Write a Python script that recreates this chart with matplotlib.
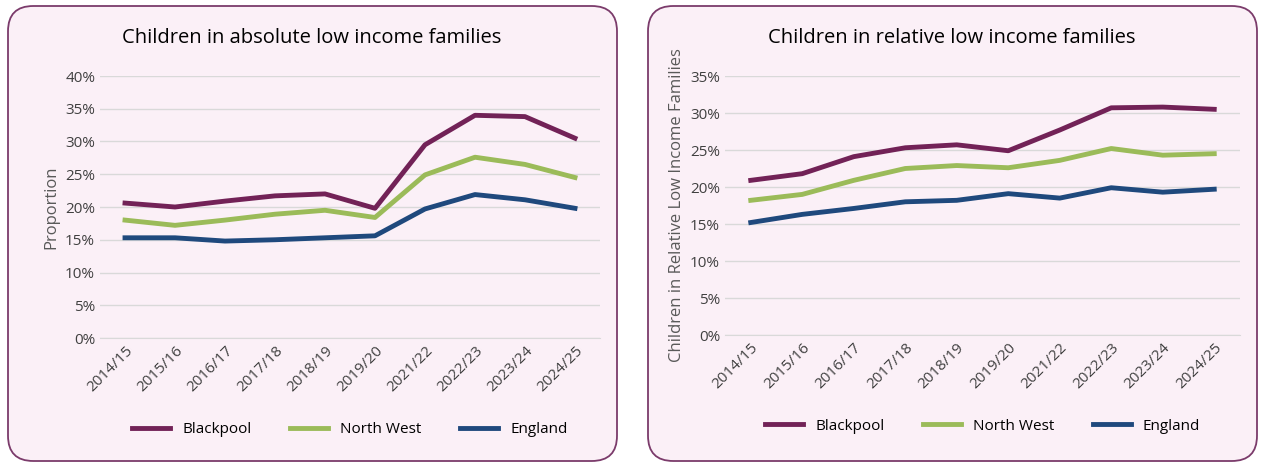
import matplotlib
matplotlib.use("Agg")
import matplotlib.pyplot as plt
from matplotlib.patches import FancyBboxPatch
from matplotlib.ticker import PercentFormatter

plt.rcParams['font.family'] = ['Open Sans', 'DejaVu Sans']

years = ["2014/15", "2015/16", "2016/17", "2017/18", "2018/19", "2019/20",
         "2021/22", "2022/23", "2023/24", "2024/25"]

abs_blackpool = [20.6, 20.0, 20.9, 21.7, 22.0, 19.8, 29.5, 34.0, 33.8, 30.5]
abs_northwest = [18.0, 17.2, 18.0, 18.9, 19.5, 18.4, 24.9, 27.6, 26.5, 24.5]
abs_england = [15.3, 15.3, 14.8, 15.0, 15.3, 15.6, 19.7, 21.9, 21.1, 19.8]

rel_blackpool = [20.9, 21.8, 24.1, 25.3, 25.7, 24.9, 27.7, 30.7, 30.8, 30.5]
rel_northwest = [18.2, 19.0, 20.9, 22.5, 22.9, 22.6, 23.6, 25.2, 24.3, 24.5]
rel_england = [15.2, 16.3, 17.1, 18.0, 18.2, 19.1, 18.5, 19.9, 19.3, 19.7]

colors = {"Blackpool": "#722257", "North West": "#9BBB59", "England": "#1F497D"}
W, H = 1263, 469

fig = plt.figure(figsize=(W / 100, H / 100), dpi=100)

# panel backgrounds (behind the axes)
for x0 in (8, 648):
    fig.patches.append(FancyBboxPatch((x0 / W, 8 / H), 609 / W, 455 / H,
                                      boxstyle="round,pad=0,rounding_size=0.02",
                                      transform=fig.transFigure, facecolor="#FBF0F7",
                                      edgecolor="#7B3B6B", linewidth=1.3,
                                      mutation_aspect=W / H, zorder=-10))


def draw(rect, series, ymax, title, ylabel, title_x):
    ax = fig.add_axes(rect)
    ax.set_facecolor("none")
    for name, vals in series:
        ax.plot(years, vals, color=colors[name], linewidth=3.5, label=name)
    ax.set_ylim(0, ymax)
    ax.set_yticks(range(0, ymax + 1, 5))
    ax.yaxis.set_major_formatter(PercentFormatter(decimals=0))
    ax.grid(axis="y", color="#D9D9D9", linewidth=1)
    ax.set_axisbelow(True)
    for s in ("top", "right", "left"):
        ax.spines[s].set_visible(False)
    ax.spines["bottom"].set_color("#D9D9D9")
    ax.tick_params(length=0, labelsize=11, colors="#404040")
    ax.tick_params(axis="x", pad=4)
    plt.setp(ax.get_xticklabels(), rotation=45, ha="right", rotation_mode="anchor")
    ax.set_xlim(-0.5, len(years) - 0.5)
    ax.set_ylabel(ylabel, fontsize=12, color="#595959")
    fig.text(title_x, 1 - 38 / H, title, ha="center", va="center", fontsize=14.5, color="black")
    ax.legend(loc="upper center", bbox_to_anchor=(0.5, -0.27), ncol=3, frameon=False,
              fontsize=11, handlelength=2.5, columnspacing=2.5)
    return ax


draw([100 / W, 1 - 338 / H, 500 / W, 262 / H],
     [("Blackpool", abs_blackpool), ("North West", abs_northwest), ("England", abs_england)],
     40, "Children in absolute low income families", "Proportion", 312 / W)
draw([725 / W, 1 - 335 / H, 515 / W, 259 / H],
     [("Blackpool", rel_blackpool), ("North West", rel_northwest), ("England", rel_england)],
     35, "Children in relative low income families", "Children in Relative Low Income Families", 952 / W)

fig.savefig("out.png", dpi=100)
